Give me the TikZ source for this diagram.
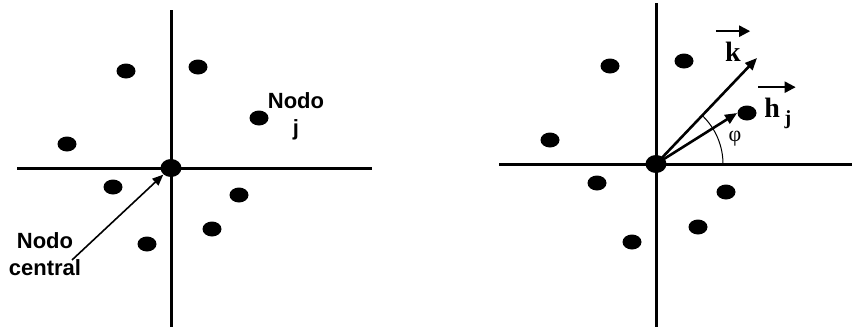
\documentclass[tikz,border=0pt]{standalone}
\usepackage{fontspec}
\setmainfont{Liberation Serif}
\setsansfont{Liberation Sans}
\usetikzlibrary{positioning,arrows.meta,calc,shapes.geometric}

\begin{document}
\begin{tikzpicture}[
  x=0.5pt, y=-0.5pt,
  >={Triangle[length=6pt,width=5pt]},
  axis/.style={line width=1.5pt},
  dot/.style={fill=black, ellipse, inner sep=0pt, minimum width=9.5pt, minimum height=7.5pt},
  hub/.style={dot, minimum width=10.5pt, minimum height=9pt},
  lbl/.style={font=\sffamily\bfseries\fontsize{11}{13.5}\selectfont, align=center, inner sep=1pt},
  vec/.style={font=\bfseries\fontsize{14}{16}\selectfont, inner sep=1pt},
  pointer/.style={line width=0.8pt, -{Triangle[length=5.5pt,width=4.5pt]}},
  ray/.style={line width=1.3pt, ->},
  over/.style={line width=1.1pt, -{Triangle[length=5.5pt,width=5.5pt]}}
]
\useasboundingbox (0,0) rectangle (853,328);

% ---------- left panel ----------
\draw[axis] (171,10) -- (171,327);
\draw[axis] (17,168) -- (372,168);
\node[hub] (C) at (171,168) {};
\foreach \n/\x/\y in {a/126/71, b/198/67, c/259/118, d/67/144,
                      e/113/187, f/239/195, g/212/229, h/147/244}
  \node[dot] (L\n) at (\x,\y) {};

\node[lbl] (nj) at (296,116) {Nodo\\j};
\node[lbl] (nc) at (45,254) {Nodo\\central};
\coordinate (tail) at (72,260);
\draw[pointer] (tail) -- (C.south west);

% ---------- right panel ----------
\draw[axis] (656,3) -- (656,327);
\draw[axis] (499,164) -- (852,164);
\node[hub] (O) at (656,164) {};
\foreach \n/\x/\y in {a/610/66, b/684/61, c/747/113, d/550/140,
                      e/597/183, f/726/192, g/698/227, h/632/242}
  \node[dot] (R\n) at (\x,\y) {};

\coordinate (ktip) at (757,58);
\draw[ray] (O.center) -- (ktip);
\draw[ray] (O.center) -- (Rc.west);
\draw[line width=0.5pt] (O.center) ++(67,0) arc[start angle=0, end angle=-46, radius=67];
\node[font=\fontsize{11}{12}\selectfont] (phi) at (735,139) {φ};

\node[vec, anchor=base] (k) at (733,61) {k};
\draw[over] ($(k.north west)+(-7,-8)$) -- ($(k.north east)+(7,-8)$);
\node[vec, anchor=base west] (h) at (762,117) {h\,\raisebox{-3.5pt}{\fontsize{10}{12}\selectfont j}};
\draw[over] ($(h.north west)+(-4,-8)$) -- ($(h.north east)+(2,-8)$);
\end{tikzpicture}
\end{document}
